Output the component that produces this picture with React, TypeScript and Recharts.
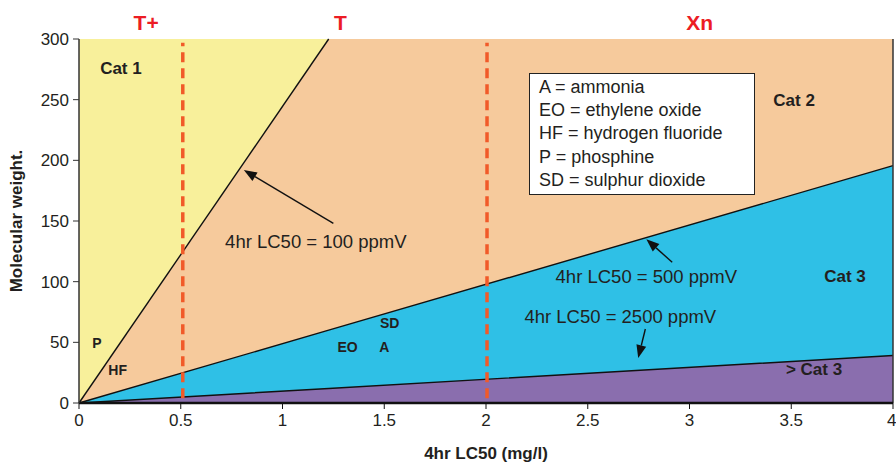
import { ComposedChart, Area, Line, XAxis, YAxis, ReferenceLine, ReferenceDot } from 'recharts';

// LC50 (mg/l) break points and the molecular weight of each ppmV boundary
const lc50 = [0, 1.227, 4];
const ceiling = [300, 300, 300];
const ppm100 = [0, 300, 300];
const ppm100Edge = [0, 300, null];
const ppm500 = [0, 60, 195.6];
const ppm2500 = [0, 12, 39.1];

const xTicks = [0, 0.5, 1, 1.5, 2, 2.5, 3, 3.5, 4];
const yTicks = [0, 50, 100, 150, 200, 250, 300];

const classLimits = [0.51, 2.005];
const classNames = ['T+', 'T', 'Xn'];
const classNameX = [0.33, 1.285, 3.05];

const catNames = ['Cat 1', 'Cat 2', 'Cat 3', '> Cat 3'];
const catX = [0.206, 3.514, 3.764, 3.612];
const catY = [276, 250, 105, 28];

const gasNames = ['P', 'HF', 'EO', 'A', 'SD'];
const gasX = [0.088, 0.19, 1.32, 1.5, 1.527];
const gasY = [49.5, 27, 46, 46, 66];

const noteText = ['4hr LC50 = 100 ppmV', '4hr LC50 = 500 ppmV', '4hr LC50 = 2500 ppmV'];
const noteX = [1.164, 2.788, 2.66];
const noteY = [133.5, 104.7, 71];
const arrowFrom = [[1.25, 148], [2.915, 116], [2.783, 61]];
const arrowTo = [[0.81, 192], [2.788, 135], [2.748, 37]];

const legendLines = ['A = ammonia', 'EO = ethylene oxide', 'HF = hydrogen fluoride', 'P = phosphine', 'SD = sulphur dioxide'];

const data = lc50.map((x, i) => ({
  x,
  ceiling: ceiling[i],
  ppm100: ppm100[i],
  ppm100Edge: ppm100Edge[i],
  ppm500: ppm500[i],
  ppm2500: ppm2500[i],
}));

const font = '"Liberation Sans", Arial, Helvetica, sans-serif';
const ink = '#231f20';

const Arrow = (p: any) => {
  const { x1, y1, x2, y2 } = p;
  const a = Math.atan2(y2 - y1, x2 - x1);
  const len = 13;
  const half = 5;
  const bx = x2 - len * Math.cos(a);
  const by = y2 - len * Math.sin(a);
  const px = -Math.sin(a) * half;
  const py = Math.cos(a) * half;
  return (
    <g>
      <line x1={x1} y1={y1} x2={bx} y2={by} stroke="#111" strokeWidth={1.4} />
      <polygon points={`${x2},${y2} ${bx + px},${by + py} ${bx - px},${by - py}`} fill="#111" />
    </g>
  );
};

export default function App() {
  return (
    <div style={{ position: 'absolute', left: 0, top: 0, width: 896, height: 462, background: '#fff', fontFamily: font }}>
      <ComposedChart width={896} height={462} data={data} margin={{ top: 39, right: 3, bottom: 0, left: 1 }}>
        <XAxis
          dataKey="x"
          type="number"
          domain={[0, 4]}
          ticks={xTicks}
          height={59}
          tick={{ fill: ink, fontSize: 17, fontFamily: font }}
          tickSize={6}
          tickMargin={5}
          stroke="#111"
          axisLine={{ stroke: '#111', strokeWidth: 2.5 }}
          label={{ value: '4hr LC50 (mg/l)', position: 'insideBottom', offset: 3, fill: ink, fontSize: 17, fontWeight: 'bold', fontFamily: font }}
        />
        <YAxis
          type="number"
          domain={[0, 300]}
          ticks={yTicks}
          width={78}
          tick={{ fill: ink, fontSize: 17, fontFamily: font }}
          tickSize={6}
          tickMargin={4}
          stroke="#333"
          axisLine={{ stroke: '#333', strokeWidth: 1.5 }}
          label={{ value: 'Molecular weight.', angle: -90, position: 'insideLeft', offset: 15, fill: ink, fontSize: 17, fontWeight: 'bold', fontFamily: font, style: { textAnchor: 'middle' } }}
        />
        <Area dataKey="ceiling" type="linear" fill="#f8f09b" fillOpacity={1} stroke="none" isAnimationActive={false} />
        <Area dataKey="ppm100" type="linear" fill="#f6ca9c" fillOpacity={1} stroke="none" isAnimationActive={false} />
        <Area dataKey="ppm500" type="linear" fill="#2fc0e6" fillOpacity={1} stroke="#111" strokeWidth={1.4} isAnimationActive={false} />
        <Area dataKey="ppm2500" type="linear" fill="#8a6eae" fillOpacity={1} stroke="#111" strokeWidth={1.4} isAnimationActive={false} />
        <Line dataKey="ppm100Edge" type="linear" stroke="#111" strokeWidth={1.4} dot={false} connectNulls={false} isAnimationActive={false} />
        <ReferenceLine x={4} stroke="#333" strokeWidth={1.5} />
        {classLimits.map((x) => (
          <ReferenceLine key={x} segment={[{ x, y: 4 }, { x, y: 297 }]} stroke="#f15a29" strokeWidth={3.5} strokeDasharray="10 6" />
        ))}
        {classNames.map((t, i) => (
          <ReferenceDot key={t} x={classNameX[i]} y={300} r={0} fill="none" stroke="none" ifOverflow="visible"
            label={{ value: t, position: 'top', offset: 9, fill: '#ec1c24', fontSize: 21, fontWeight: 'bold', fontFamily: font }} />
        ))}
        {catNames.map((t, i) => (
          <ReferenceDot key={t} x={catX[i]} y={catY[i]} r={0} fill="none" stroke="none"
            label={{ value: t, position: 'center', fill: ink, fontSize: 17, fontWeight: 'bold', fontFamily: font }} />
        ))}
        {gasNames.map((t, i) => (
          <ReferenceDot key={t} x={gasX[i]} y={gasY[i]} r={0} fill="none" stroke="none"
            label={{ value: t, position: 'center', fill: ink, fontSize: 14, fontWeight: 'bold', fontFamily: font }} />
        ))}
        {noteText.map((t, i) => (
          <ReferenceDot key={t} x={noteX[i]} y={noteY[i]} r={0} fill="none" stroke="none"
            label={{ value: t, position: 'center', fill: ink, fontSize: 18.5, fontFamily: font }} />
        ))}
        {arrowFrom.map((f, i) => (
          <ReferenceLine key={i} segment={[{ x: f[0], y: f[1] }, { x: arrowTo[i][0], y: arrowTo[i][1] }]} shape={Arrow} />
        ))}
      </ComposedChart>
      <div style={{ position: 'absolute', left: 529, top: 73, width: 215, height: 118, border: '1.5px solid #222', background: '#fff', padding: '2px 0 0 9px', boxSizing: 'content-box', fontSize: 18, lineHeight: '23.2px', color: ink }}>
        {legendLines.map((l) => (
          <div key={l} style={{ whiteSpace: 'nowrap' }}>{l}</div>
        ))}
      </div>
    </div>
  );
}
